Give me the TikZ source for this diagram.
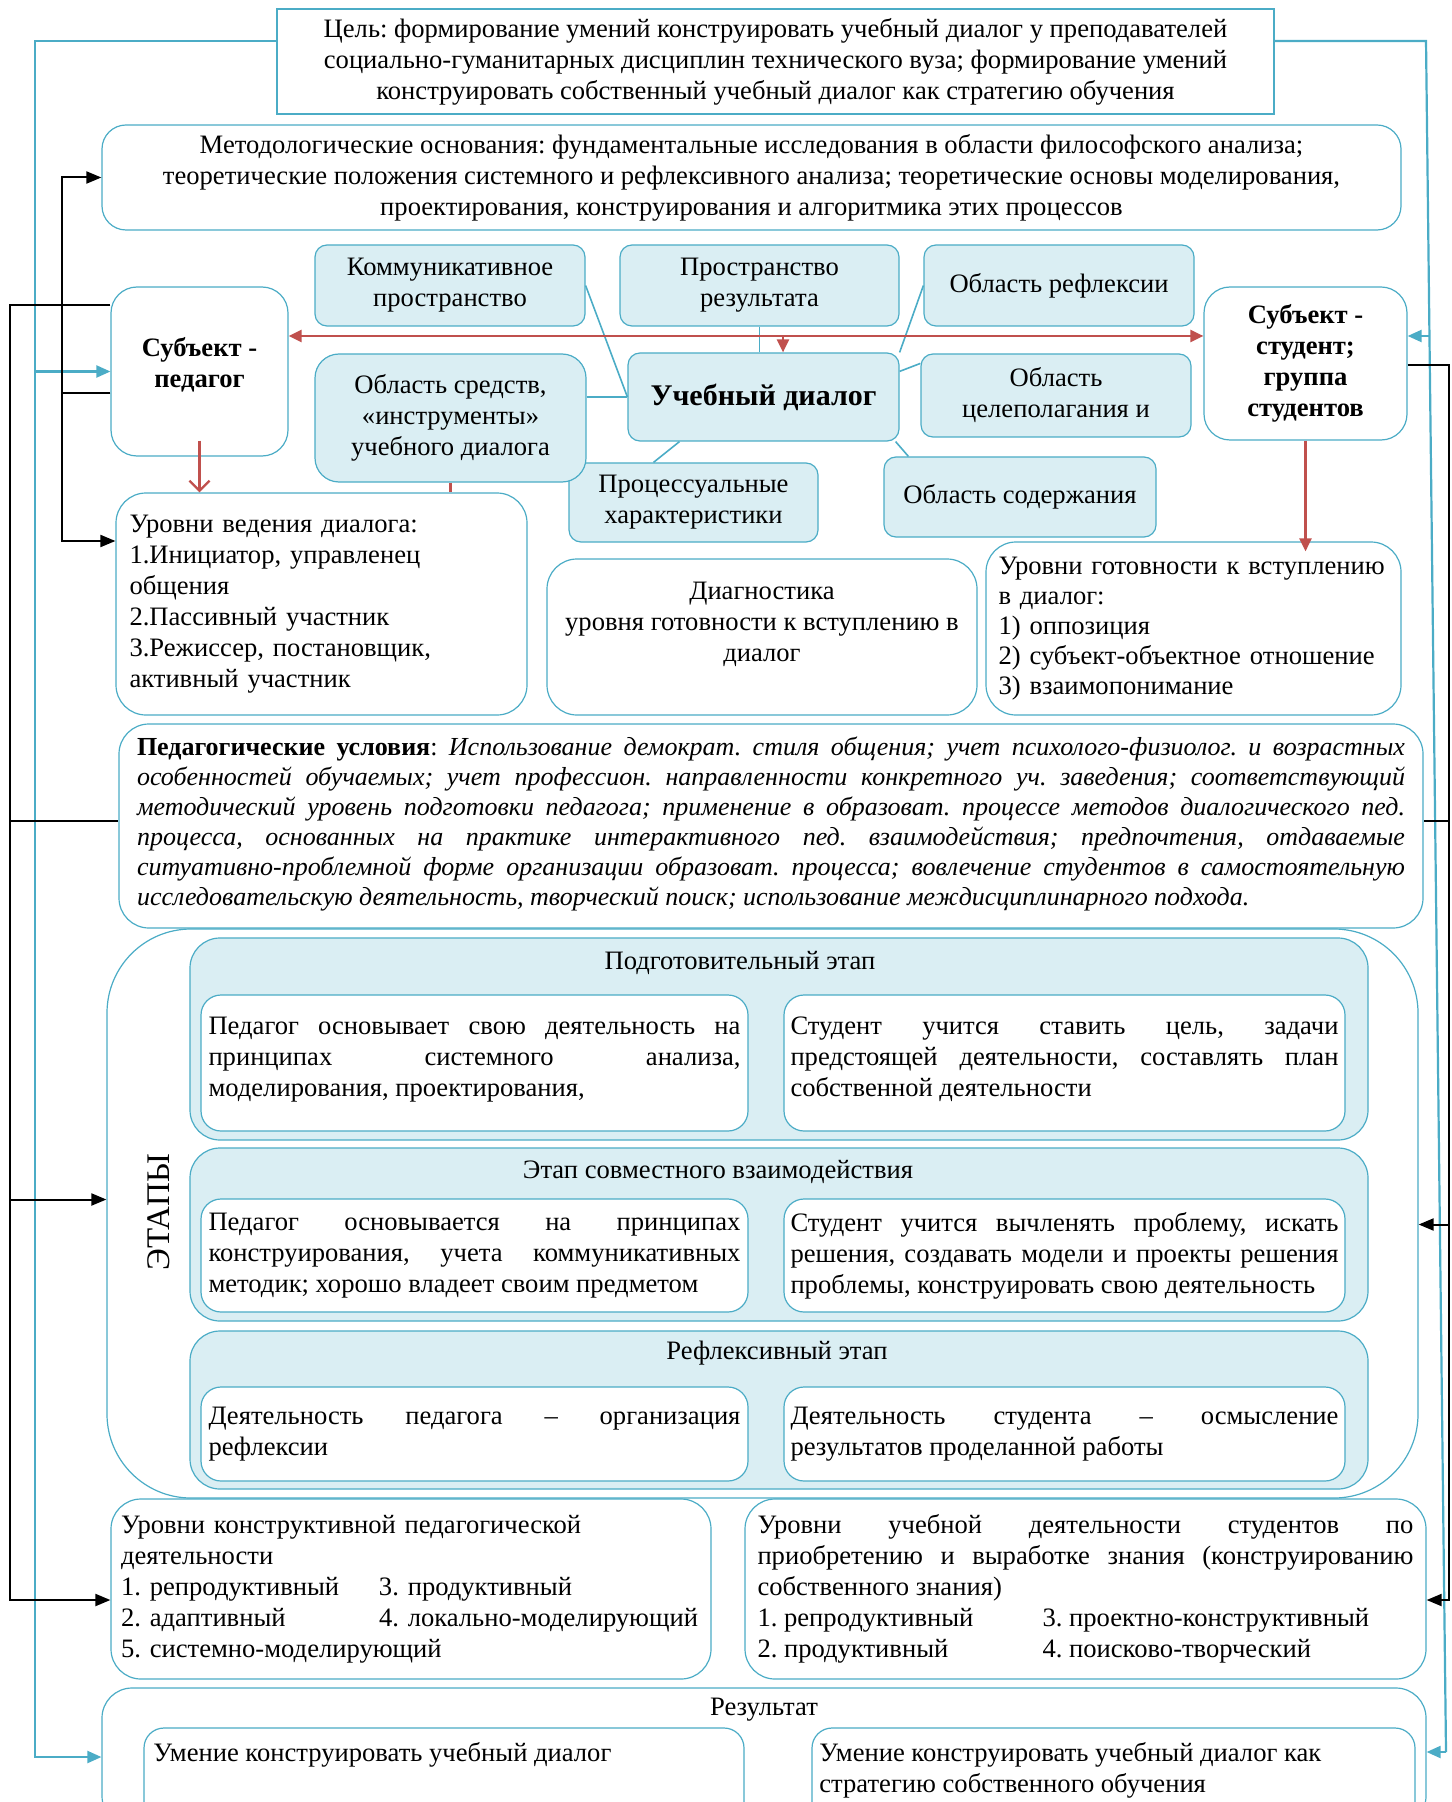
\documentclass[tikz,border=0pt]{standalone}
\usepackage{fontspec}
\setmainfont{Liberation Serif}
\usetikzlibrary{arrows.meta}
\definecolor{lineblue}{RGB}{75,172,198}
\definecolor{fillblue}{RGB}{218,238,243}
\definecolor{arrowred}{RGB}{192,80,77}
\frenchspacing

\begin{document}
\begin{tikzpicture}[x=0.5pt, y=-0.5pt,
	every node/.style={font=\fontsize{13.3}{15.5}\selectfont},
	corners/.style args={#1/#2/#3/#4}{at={({(#1+#3)/2},{(#2+#4)/2})}, minimum width={(#3-#1)*0.5pt}, minimum height={(#4-#2)*0.5pt}},
	plain box/.style={draw=lineblue, line width=0.6pt, fill=white, inner sep=0pt, align=center},
	round box/.style={plain box, rounded corners=10pt},
	blue box/.style={round box, fill=fillblue, rounded corners=6pt},
	subject box/.style={round box, rounded corners=13pt, font=\fontsize{13.3}{15.5}\selectfont\bfseries},
	stage box/.style={round box, fill=fillblue, rounded corners=15pt},
	inner box/.style={round box, align=justify},
	blue line/.style={lineblue, line width=0.8pt},
	blue arrow/.style={lineblue, line width=1.1pt, >={Triangle[length=7pt,width=6pt]}},
	black line/.style={black, line width=1pt, >={Triangle[length=7.5pt,width=6pt]}},
	red arrow/.style={arrowred, line width=1.2pt, >={Triangle[length=6.5pt,width=6pt]}}]

	\useasboundingbox (0,0) rectangle (1451,1802);
	\clip (0,0) rectangle (1451,1802);

	% goal and grounds
	\node[plain box, corners=277/9/1274/114] (goal) {Цель: формирование умений конструировать учебный диалог у преподавателей\\социально-гуманитарных дисциплин технического вуза; формирование умений\\конструировать собственный учебный диалог как стратегию обучения};
	\node[round box, rounded corners=12pt, corners=102/125/1401/230] (method) {Методологические основания: фундаментальные исследования в области философского анализа;\\теоретические положения системного и рефлексивного анализа; теоретические основы моделирования,\\проектирования, конструирования и алгоритмика этих процессов};

	% subjects
	\node[subject box, corners=111/287/288/456] (subjT) {Субъект -\\педагог\\[-6pt]\mbox{}};
	\node[subject box, corners=1204/287/1407/440] (subjS) {Субъект -\\студент;\\группа\\студентов};

	% fields of the dialog
	\node[blue box, corners=315/245/585/326] (komm) {Коммуникативное\\пространство};
	\node[blue box, corners=620/245/899/326] (result) {Пространство\\результата};
	\node[blue box, corners=924/245/1194/326] (refl) {Область рефлексии};
	\node[blue box, corners=569/463/818/542] (proc) {Процессуальные\\характеристики};
	\node[blue box, rounded corners=12pt, corners=315/354/586/482] (tools) {Область средств,\\«инструменты»\\учебного диалога};
	\node[blue box, corners=628/353/899/441, font=\fontsize{15}{18}\selectfont\bfseries] (dialog) {Учебный диалог};
	\node[blue box, corners=921/354/1191/437] (goals) {Область\\целеполагания и};
	\node[blue box, corners=884/457/1156/537] (content) {Область содержания};

	% levels and diagnostics
	\node[round box, rounded corners=15pt, corners=116/493/527/715, text width=192pt, align=left] (levelsD) {Уровни ведения диалога:\\1.Инициатор, управленец\\общения\\2.Пассивный участник\\3.Режиссер, постановщик,\\активный участник};
	\node[round box, rounded corners=15pt, corners=547/559/977/715] (diag) {Диагностика\\уровня готовности к вступлению в\\диалог\\\mbox{}};
	\node[round box, rounded corners=15pt, corners=986/542/1401/715, text width=195pt, align=left, font=\fontsize{13.3}{15}\selectfont] (levelsR) {Уровни готовности к вступлению\\в диалог:\\1) оппозиция\\2) субъект-объектное отношение\\3) взаимопонимание};

	% conditions
	\node[round box, rounded corners=15pt, corners=119/724/1423/928, text width=634pt, align=justify, font=\fontsize{13}{15}\selectfont] (cond) {\mbox{}\\[-8pt]\textbf{Педагогические условия}: \textit{Использование демократ. стиля общения; учет психолого-физиолог. и возрастных\linebreak особенностей обучаемых; учет профессион. направленности конкретного уч. заведения; соответствующий\linebreak методический уровень подготовки педагога; применение в образоват. процессе методов диалогического пед.\linebreak процесса, основанных на практике интерактивного пед. взаимодействия; предпочтения, отдаваемые\linebreak ситуативно-проблемной форме организации образоват. процесса; вовлечение студентов в самостоятельную\linebreak исследовательскую деятельность, творческий поиск; использование междисциплинарного подхода.}};

	% stages
	\node[round box, rounded corners=42pt, corners=107/929/1418/1498] (stages) {};
	\node[font=\fontsize{16.5}{18}\selectfont, rotate=90] (stagesLabel) at (159,1212) {ЭТАПЫ};

	\node[stage box, corners=190/938/1368/1140] (prep) {};
	\node (prepTitle) at (740,963) {Подготовительный этап};
	\node[inner box, corners=201/995/748/1131, text width=266pt] (prepT) {Педагог основывает свою деятельность на\linebreak принципах системного анализа,\linebreak моделирования, проектирования,\\[-9pt]\mbox{}};
	\node[inner box, corners=784/995/1345/1131, text width=274pt] (prepS) {Студент учится ставить цель, задачи\linebreak предстоящей деятельности, составлять план\linebreak собственной деятельности\\[-9pt]\mbox{}};

	\node[stage box, corners=190/1148/1368/1321] (joint) {};
	\node (jointTitle) at (718,1172) {Этап совместного взаимодействия};
	\node[inner box, corners=201/1199/748/1312, text width=266pt] (jointT) {Педагог основывается на принципах\linebreak конструирования, учета коммуникативных\linebreak методик; хорошо владеет своим предметом};
	\node[inner box, corners=784/1199/1345/1312, text width=274pt] (jointS) {Студент учится вычленять проблему, искать\linebreak решения, создавать модели и проекты решения\linebreak проблемы, конструировать свою деятельность};

	\node[stage box, corners=190/1331/1368/1489] (reflex) {};
	\node (reflexTitle) at (777,1353) {Рефлексивный этап};
	\node[inner box, corners=201/1387/748/1481, text width=266pt] (reflexT) {Деятельность педагога – организация\linebreak рефлексии};
	\node[inner box, corners=784/1387/1345/1481, text width=274pt] (reflexS) {Деятельность студента – осмысление\linebreak результатов проделанной работы};

	% levels of activity
	\node[round box, rounded corners=15pt, corners=111/1499/711/1679, text width=290pt, align=left] (levelsT) {Уровни конструктивной педагогической\\деятельности\\\makebox[129pt][l]{1. репродуктивный}3. продуктивный\\\makebox[129pt][l]{2. адаптивный}4. локально-моделирующий\\5. системно-моделирующий};
	\node[round box, rounded corners=15pt, corners=745/1499/1426/1679, text width=328pt, align=justify] (levelsS) {Уровни учебной деятельности студентов по\linebreak приобретению и выработке знания (конструированию\linebreak собственного знания)\\\makebox[142.5pt][l]{1. репродуктивный}3. проектно-конструктивный\\\makebox[142.5pt][l]{2. продуктивный}4. поисково-творческий};

	% result
	\node[round box, rounded corners=15pt, corners=102/1688/1426/1826] (outcome) {};
	\node (outcomeTitle) at (764,1710) {Результат};
	\node[round box, corners=144/1728/744/1840] (outcomeT) {};
	\node[round box, corners=812/1728/1415/1840] (outcomeS) {};
	\node[anchor=north west, inner sep=0pt] (outcomeTtext) at (153,1742) {Умение конструировать учебный диалог};
	\node[anchor=north west, inner sep=0pt, align=left] (outcomeStext) at (819,1742) {Умение конструировать учебный диалог как\\стратегию собственного обучения};

	% bus coordinates
	\coordinate (cyanL) at (35,41);
	\coordinate (cyanR) at (1426,41);
	\coordinate (cyanRb) at (1446,1752);
	\coordinate (cyanRs) at (1429.6,336);
	\coordinate (busL) at (10,305);
	\coordinate (busT) at (62,393);
	\coordinate (busTb) at (62,541);
	\coordinate (busR) at (1449,365);
	\coordinate (redRow) at (783,336);
	\coordinate (stagesInL) at ([yshift=7pt]stages.west);
	\coordinate (stagesInR) at ([yshift=-5.5pt]stages.east);
	\coordinate (condInL) at ([yshift=2.5pt]cond.west);
	\coordinate (condInR) at ([yshift=2.5pt]cond.east);
	\coordinate (levelsInL) at ([yshift=-5.5pt]levelsT.west);
	\coordinate (levelsInR) at ([yshift=-5.5pt]levelsS.east);

	% draw links of the fields to the dialog
	\draw[blue line] (komm.east) -- (dialog.west);
	\draw[blue line] (tools.east |- dialog.west) -- (dialog.west);
	\draw[blue line] (result.south) -- (result.south |- dialog.north);
	\draw[blue line] (refl.west) -- (dialog.north east);
	\draw[blue line] ([yshift=-5pt]goals.north west) -- ([yshift=-9.5pt]dialog.north east);
	\draw[blue line] ([xshift=-20pt]proc.north) -- ([xshift=-42pt]dialog.south);
	\draw[blue line] ([xshift=12.5pt]content.north west) -- ([xshift=-2pt]dialog.south east);

	% draw goal lines
	\draw[blue arrow, ->] (goal.west |- cyanL) -- (cyanL) |- (outcome.west);
	\draw[blue arrow, ->] (cyanL |- subjT.west) -- (subjT.west);
	\draw[blue line, line width=1.1pt] (goal.east |- cyanR) -- (cyanR) -- (cyanRb);
	\draw[blue arrow, ->] (cyanRb) -- (cyanRb -| outcome.east);
	\draw[blue arrow, ->] (cyanRs) -- (cyanRs -| subjS.east);

	% draw teacher lines
	\draw[black line, ->] (subjT.west |- busL) -- (busL) |- (levelsInL);
	\draw[black line, ->] (busL |- stagesInL) -- (stagesInL);
	\draw[black line] (busL |- condInL) -- (condInL);
	\draw[black line, ->] (subjT.west |- busT) -- (busT) |- (method.west);
	\draw[black line, ->] (busT) -- (busTb) -- (busTb -| levelsD.west);

	% draw student lines
	\draw[black line, ->] (subjS.east |- busR) -- (busR) |- (levelsInR);
	\draw[black line, ->] (busR |- stagesInR) -- (stagesInR);
	\draw[black line] (busR |- condInR) -- (condInR);

	% draw red arrows
	\draw[red arrow, <->] (subjT.east |- redRow) -- (subjS.west |- redRow);
	\draw[red arrow, ->] (redRow) -- (redRow |- dialog.north);
	\draw[red arrow, -{Straight Barb[length=5pt,width=10pt]}] ([yshift=8pt]subjT.south) -- (subjT.south |- levelsD.north);
	\draw[red arrow, ->] (subjS.south) -- ([yshift=-5pt]subjS.south |- levelsR.north);
	\draw[red arrow] (tools.south) -- (tools.south |- levelsD.north);

\end{tikzpicture}
\end{document}
